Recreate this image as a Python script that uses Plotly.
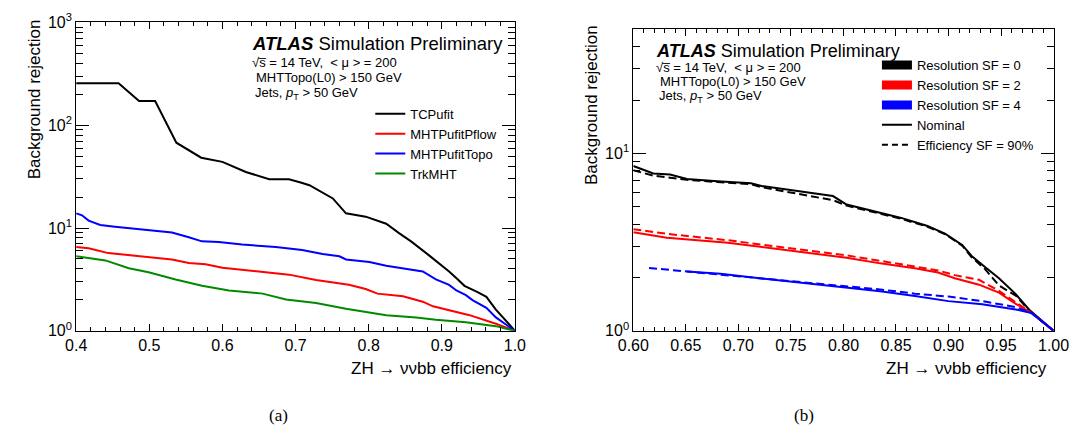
import math
import plotly.graph_objects as go

# ---------------- data: panel (a) ----------------
eff_tcp = [0.400, 0.458, 0.486, 0.508, 0.537, 0.571, 0.600, 0.632, 0.664, 0.691, 0.707, 0.719, 0.751,
           0.769, 0.796, 0.824, 0.842, 0.858, 0.883, 0.897, 0.910, 0.922, 0.931, 0.949, 0.961, 0.974, 1.000]
rej_tcp = [256, 256, 172, 172, 67.6, 48.3, 44.0, 35.1, 29.8, 29.8, 27.7, 26.1, 19.4,
           13.9, 12.9, 11.0, 8.86, 7.42, 5.39, 4.51, 3.78, 3.16, 2.74, 2.38, 2.14, 1.61, 1.00]

eff_pflow = [0.400, 0.417, 0.444, 0.481, 0.531, 0.554, 0.577, 0.600, 0.655, 0.691, 0.728, 0.773, 0.796,
             0.812, 0.847, 0.874, 0.888, 0.906, 0.938, 0.974, 1.000]
rej_pflow = [6.53, 6.35, 5.70, 5.35, 4.95, 4.57, 4.45, 4.11, 3.78, 3.52, 3.12, 2.80, 2.55,
             2.30, 2.17, 1.92, 1.73, 1.61, 1.42, 1.17, 1.00]

eff_topo = [0.400, 0.408, 0.417, 0.433, 0.453, 0.481, 0.531, 0.554, 0.572, 0.595, 0.627, 0.673, 0.709,
            0.737, 0.760, 0.769, 0.801, 0.824, 0.874, 0.892, 0.910, 0.920, 0.933, 0.942, 0.961, 0.974, 1.000]
rej_topo = [13.9, 13.3, 11.8, 10.7, 10.3, 9.8, 9.06, 8.14, 7.42, 7.31, 6.91, 6.53, 6.12,
            5.58, 5.31, 4.95, 4.67, 4.29, 3.78, 3.16, 2.80, 2.47, 2.22, 1.99, 1.67, 1.35, 1.00]

eff_trk = [0.400, 0.440, 0.472, 0.499, 0.536, 0.572, 0.609, 0.655, 0.687, 0.728, 0.769, 0.796, 0.824,
           0.865, 0.892, 0.933, 0.974, 1.000]
rej_trk = [5.31, 4.84, 4.06, 3.72, 3.16, 2.74, 2.47, 2.30, 2.02, 1.86, 1.64, 1.53, 1.42,
           1.35, 1.28, 1.21, 1.11, 1.00]

# ---------------- data: panel (b) ----------------
eff_sf0 = [0.600, 0.619, 0.635, 0.651, 0.680, 0.712, 0.722, 0.790, 0.803, 0.829, 0.855, 0.880, 0.897,
           0.913, 0.922, 0.935, 0.948, 0.964, 0.977, 1.000]
rej_sf0_nom = [8.50, 7.70, 7.60, 7.18, 6.96, 6.78, 6.55, 5.75, 5.15, 4.70, 4.33, 3.90, 3.52,
               3.05, 2.64, 2.28, 1.98, 1.61, 1.31, 1.00]
rej_sf0_eff = [8.03, 7.50, 7.30, 7.10, 6.90, 6.70, 6.45, 5.45, 5.08, 4.66, 4.28, 3.86, 3.50,
               3.02, 2.60, 2.22, 1.80, 1.58, 1.30, 1.00]

eff_sf2 = [0.600, 0.632, 0.690, 0.764, 0.803, 0.835, 0.868, 0.890, 0.906, 0.929, 0.948, 0.964, 0.979, 1.000]
rej_sf2_nom = [3.59, 3.35, 3.14, 2.77, 2.58, 2.40, 2.25, 2.13, 1.98, 1.82, 1.64, 1.42, 1.26, 1.00]
rej_sf2_eff = [3.74, 3.52, 3.24, 2.86, 2.66, 2.48, 2.31, 2.19, 2.06, 1.94, 1.68, 1.45, 1.26, 1.00]

eff_sf4_nom = [0.651, 0.683, 0.716, 0.764, 0.803, 0.835, 0.868, 0.900, 0.932, 0.964, 0.979, 1.000]
rej_sf4_nom = [2.16, 2.10, 1.99, 1.86, 1.75, 1.67, 1.57, 1.47, 1.41, 1.32, 1.26, 1.00]
eff_sf4_eff = [0.615, 0.651, 0.683, 0.716, 0.764, 0.803, 0.835, 0.868, 0.900, 0.932, 0.964, 0.979, 1.000]
rej_sf4_eff = [2.26, 2.16, 2.08, 1.98, 1.87, 1.78, 1.71, 1.62, 1.56, 1.47, 1.36, 1.26, 1.00]

# ---------------- styling / layout helpers ----------------
W, H = 1089, 441
FONT = "Liberation Sans"
GREEN = "#008a00"

def px(x):
    return x / W

def py(y):
    return 1 - y / H

fig = go.Figure()

left_series = [
    ("TCPufit", eff_tcp, rej_tcp, "black"),
    ("MHTPufitPflow", eff_pflow, rej_pflow, "red"),
    ("MHTPufitTopo", eff_topo, rej_topo, "blue"),
    ("TrkMHT", eff_trk, rej_trk, GREEN),
]
for name, xs, ys, col in left_series:
    fig.add_trace(go.Scatter(x=xs, y=ys, mode="lines", name=name,
                             line=dict(color=col, width=2), xaxis="x", yaxis="y",
                             legend="legend", showlegend=True))

right_series = [
    (eff_sf0, rej_sf0_nom, "black", "solid"),
    (eff_sf0, rej_sf0_eff, "black", "8px,4px"),
    (eff_sf2, rej_sf2_nom, "red", "solid"),
    (eff_sf2, rej_sf2_eff, "red", "8px,4px"),
    (eff_sf4_nom, rej_sf4_nom, "blue", "solid"),
    (eff_sf4_eff, rej_sf4_eff, "blue", "8px,4px"),
]
for xs, ys, col, dash in right_series:
    fig.add_trace(go.Scatter(x=xs, y=ys, mode="lines", line=dict(color=col, width=2, dash=dash),
                             xaxis="x2", yaxis="y2", showlegend=False))

legend_entries_b = [
    ("Resolution SF = 0", "black", 9, "solid"),
    ("Resolution SF = 2", "red", 9, "solid"),
    ("Resolution SF = 4", "blue", 9, "solid"),
    ("Nominal", "black", 2, "solid"),
    ("Efficiency SF = 90%", "black", 2, "6px,4px"),
]
for name, col, w, dash in legend_entries_b:
    fig.add_trace(go.Scatter(x=[None], y=[None], mode="lines", name=name,
                             line=dict(color=col, width=w, dash=dash),
                             xaxis="x2", yaxis="y2", legend="legend2", showlegend=True))

tickfont = dict(family=FONT, size=16, color="black")

def xaxis_cfg(domain, rng, dtick, minor_dtick, fmt, anchor):
    return dict(domain=domain, range=rng, dtick=dtick, tick0=rng[0], tickformat=fmt,
                ticks="inside", ticklen=7, tickwidth=1, tickcolor="black",
                showline=True, linecolor="black", linewidth=1, mirror="allticks",
                showgrid=False, zeroline=False, tickfont=tickfont, anchor=anchor,
                minor=dict(dtick=minor_dtick, tick0=rng[0], ticks="inside", ticklen=4,
                           tickcolor="black", tickwidth=1, showgrid=False))

def yaxis_cfg(domain, top, minor_vals, anchor):
    nmaj = int(math.floor(math.log10(top) + 1e-9))
    vals = [10 ** k for k in range(0, nmaj + 1)]
    txt = ["10<sup>%d</sup>" % k for k in range(0, nmaj + 1)]
    return dict(domain=domain, type="log", range=[0, math.log10(top)],
                tickmode="array", tickvals=vals, ticktext=txt,
                ticks="inside", ticklen=13, tickwidth=1, tickcolor="black",
                showline=True, linecolor="black", linewidth=1, mirror="allticks",
                showgrid=False, zeroline=False, tickfont=tickfont, anchor=anchor,
                minor=dict(tickmode="array", tickvals=minor_vals, ticks="inside", ticklen=7,
                           tickcolor="black", tickwidth=1, showgrid=False))

minor_a = [m * 10 ** k for k in range(0, 3) for m in range(2, 10)]
minor_b = [m for m in range(2, 10)] + [20, 30, 40]

fig.update_layout(
    width=W, height=H, autosize=False,
    margin=dict(l=0, r=0, t=0, b=0),
    paper_bgcolor="white", plot_bgcolor="white",
    font=dict(family=FONT, size=13, color="black"),
    xaxis=xaxis_cfg([px(62), px(514)], [0.4, 1.0], 0.1, 0.02, ".1f", "y"),
    yaxis=yaxis_cfg([py(335), py(12)], 1000, minor_a, "x"),
    xaxis2=xaxis_cfg([px(636), px(1069)], [0.6, 1.0], 0.05, 0.01, ".2f", "y2"),
    yaxis2=yaxis_cfg([py(335), py(19.3)], 50, minor_b, "x2"),
    legend=dict(x=px(365), y=py(92), xanchor="left", yanchor="top",
                bgcolor="rgba(0,0,0,0)", borderwidth=0,
                font=dict(family=FONT, size=13, color="black"), tracegroupgap=0),
    legend2=dict(x=px(887), y=py(41), xanchor="left", yanchor="top",
                 bgcolor="rgba(0,0,0,0)", borderwidth=0,
                 font=dict(family=FONT, size=13, color="black"), tracegroupgap=0),
)

ann = []
def text(x, y, s, size, xanchor="left", yanchor="middle", family=FONT, angle=0):
    ann.append(dict(x=px(x), y=py(y), xref="paper", yref="paper", text=s, showarrow=False,
                    xanchor=xanchor, yanchor=yanchor, textangle=angle,
                    font=dict(family=family, size=size, color="black")))

sqrt_line = "√s\u0305 = 14 TeV,  &lt; μ &gt; = 200"
mht_line = "MHTTopo(L0) &gt; 150 GeV"
jets_line = "Jets, <i>p</i><sub>T</sub> &gt; 50 GeV"

# panel (a) labels
text(241, 34, "<b><i>ATLAS</i></b> Simulation Preliminary", 18.5)
text(241, 54, sqrt_line, 13)
text(245, 70, mht_line, 13)
text(244, 86, jets_line, 13)
text(19, 92, "Background rejection", 17, xanchor="center", angle=-90)
text(513, 374, "ZH → ννbb efficiency", 17, xanchor="right")
text(270, 424, "(a)", 17, xanchor="center", family="Liberation Serif")

# panel (b) labels
text(657, 42, "<b><i>ATLAS</i></b> Simulation Preliminary", 18)
text(657, 59, sqrt_line, 13)
text(661, 74, mht_line, 13)
text(660, 90, jets_line, 13)
text(593, 99, "Background rejection", 17, xanchor="center", angle=-90)
text(1064, 374, "ZH → ννbb efficiency", 17, xanchor="right")
text(812, 424, "(b)", 17, xanchor="center", family="Liberation Serif")

fig.update_layout(annotations=ann)
fig.write_html("out.html")
